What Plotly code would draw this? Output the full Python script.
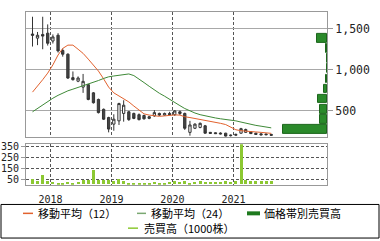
import pandas as pd
import plotly.graph_objects as go

W, H = 380, 241

# ---- data (monthly, Sep 2017 - Aug 2021) ----
months = [d.strftime("%Y-%m-15") for d in pd.date_range("2017-09-01", "2021-08-01", freq="MS")]

open_ = [1435, 1385, 1430, 1445, 1350, 1420, 1235, 1190, 905, 862, 790, 820, 720, 640, 520, 420,
         340, 380, 470, 490, 470, 455, 445, 410, 440, 470, 450, 470, 455, 490, 470, 240,
         290, 300, 320, 240, 235, 232, 230, 200, 205, 230, 240, 245, 230, 222, 220, 215]
high_ = [1645, 1460, 1645, 1552, 1430, 1445, 1260, 1200, 980, 920, 950, 830, 730, 650, 530, 430,
         460, 600, 630, 500, 480, 470, 455, 440, 510, 480, 480, 490, 510, 505, 480, 380,
         350, 360, 330, 245, 240, 240, 235, 215, 225, 295, 285, 250, 235, 228, 225, 222]
low_ = [1283, 1300, 1250, 1295, 1320, 1210, 1160, 890, 870, 850, 720, 630, 590, 470, 390, 240,
        260, 330, 370, 380, 400, 385, 395, 400, 430, 440, 445, 450, 440, 450, 270, 200,
        280, 290, 225, 222, 220, 215, 190, 190, 195, 225, 235, 220, 210, 205, 205, 200]
close_ = [1420, 1420, 1410, 1323, 1400, 1230, 1190, 900, 880, 900, 860, 640, 600, 480, 400, 280,
          400, 590, 570, 395, 410, 395, 405, 430, 480, 450, 470, 455, 500, 470, 290, 330,
          340, 350, 230, 228, 225, 222, 195, 205, 215, 285, 275, 225, 215, 210, 212, 205]

ma12 = [729, 800, 880, 960, 1060, 1180, 1260, 1300, 1300, 1250, 1200, 1130, 1055, 985, 890, 790,
        720, 680, 645, 610, 560, 515, 465, 450, 442, 435, 440, 448, 452, 450, 430, 420,
        410, 398, 385, 372, 362, 350, 335, 300, 272, 260, 253, 248, 245, 240, 233, 228]
ma24 = [490, 530, 575, 620, 655, 690, 720, 745, 765, 785, 805, 825, 845, 870, 895, 915,
        925, 935, 945, 950, 930, 890, 845, 800, 755, 715, 680, 640, 600, 565, 530, 500,
        475, 455, 440, 428, 415, 405, 398, 392, 380, 365, 350, 338, 325, 315, 305, 295]

volume = [50, 30, 85, 35, 20, 18, 18, 20, 15, 22, 42, 40, 130, 45, 45, 45,
          28, 48, 35, 18, 15, 15, 15, 15, 22, 15, 15, 25, 28, 22, 33, 15,
          20, 35, 25, 22, 22, 22, 30, 20, 30, 420, 45, 32, 30, 30, 30, 28]

band_price = [277, 400, 523, 646, 769, 892, 1015, 1138, 1261, 1384]
band_volume = [1320, 220, 220, 280, 100, 30, 0, 0, 40, 300]

price_ticks = [500, 1000, 1500]
price_labels = ["500", "1,000", "1,500"]
vol_ticks = [50, 150, 250, 350]
year_ticks = ["2018-01-01", "2019-01-01", "2020-01-01", "2021-01-01"]
year_labels = ["2018", "2019", "2020", "2021"]

legend_names = ["移動平均（12）", "移動平均（24）", "価格帯別売買高", "売買高（1000株）"]

# ---- colours ----
C_MA12 = "#e2622e"
C_MA24 = "#3f8a38"
C_BAND = "#2b8a2b"
C_VOL = "#8cc832"
GRID = "#a8a8a8"
DASH = "#555555"

fig = go.Figure()

fig.add_trace(go.Candlestick(
    x=months, open=open_, high=high_, low=low_, close=close_,
    xaxis="x", yaxis="y",
    increasing=dict(line=dict(color="#333333", width=1), fillcolor="#ffffff"),
    decreasing=dict(line=dict(color="#333333", width=1), fillcolor="#444444"),
    whiskerwidth=0, showlegend=False, hoverinfo="skip",
))
fig.add_trace(go.Scatter(x=months, y=ma12, mode="lines", line=dict(color=C_MA12, width=1),
                         xaxis="x", yaxis="y", showlegend=False, hoverinfo="skip"))
fig.add_trace(go.Scatter(x=months, y=ma24, mode="lines", line=dict(color=C_MA24, width=1),
                         xaxis="x", yaxis="y", showlegend=False, hoverinfo="skip"))
fig.add_trace(go.Bar(x=band_volume, y=band_price, orientation="h", width=105,
                     marker=dict(color=C_BAND, line=dict(color="#1c661c", width=1)),
                     xaxis="x3", yaxis="y", showlegend=False, hoverinfo="skip"))
fig.add_trace(go.Bar(x=months, y=volume, width=1.55e9, marker=dict(color=C_VOL, line=dict(width=0)),
                     xaxis="x2", yaxis="y2", showlegend=False, hoverinfo="skip"))

xdom = [26 / W, 327 / W]
xr = ["2017-08-07", "2022-07-15"]
band_max = max(band_volume) * 301 / 44

mono = dict(family="DejaVu Sans Mono", color="#222222")

fig.update_layout(
    width=W, height=H, margin=dict(l=0, r=0, t=0, b=0),
    paper_bgcolor="white", plot_bgcolor="white",
    bargap=0,
    xaxis=dict(domain=xdom, range=xr, type="date", anchor="y",
               tickvals=year_ticks, showticklabels=False, ticks="",
               showgrid=True, gridcolor=DASH, griddash="3px,2px", gridwidth=1,
               showline=True, mirror=True, linecolor="#999999", linewidth=1,
               rangeslider=dict(visible=False), zeroline=False),
    xaxis3=dict(overlaying="x", range=[band_max, 0], visible=False, anchor="y"),
    yaxis=dict(domain=[1 - 136 / H, 1 - 9 / H], range=[180, 1704], side="right", anchor="x",
               tickvals=price_ticks, ticktext=price_labels,
               ticks="outside", ticklen=5, tickcolor="#999999",
               tickfont=dict(size=11.5, **mono),
               showgrid=True, gridcolor=GRID, gridwidth=1,
               showline=True, mirror=True, linecolor="#999999", linewidth=1, zeroline=False),
    xaxis2=dict(domain=xdom, range=xr, type="date", anchor="y2",
                tickvals=year_ticks, ticktext=year_labels, ticks="", ticklabelstandoff=5,
                tickfont=dict(size=10, **mono),
                showgrid=True, gridcolor=DASH, griddash="3px,2px", gridwidth=1,
                showline=True, mirror=True, linecolor="#999999", linewidth=1, zeroline=False),
    yaxis2=dict(domain=[1 - 184 / H, 1 - 143 / H], range=[0, 370], anchor="x2", side="left",
                tickvals=vol_ticks, ticks="outside", ticklen=4, tickcolor="#999999",
                tickfont=dict(size=10, **mono),
                showgrid=True, gridcolor=DASH, griddash="3px,2px", gridwidth=1,
                showline=True, mirror=True, linecolor="#999999", linewidth=1, zeroline=False),
)

# ---- legend box (drawn manually to match the reference layout) ----
def px(x):
    return x / W

def py(y):
    return 1 - y / H

shapes = [dict(type="rect", xref="paper", yref="paper", x0=px(1), x1=px(379), y0=py(238), y1=py(204),
               line=dict(color="#000000", width=1), fillcolor="rgba(0,0,0,0)")]
annotations = []
items = [
    (23, 33, 213, C_MA12, 1.5, 36, legend_names[0]),
    (137, 146, 213, "#7aa872", 1.5, 149, legend_names[1]),
    (247, 260, 213, "#1e7a1e", 4, 262, legend_names[2]),
    (128, 138, 228, C_VOL, 1.5, 142, legend_names[3]),
]
for x0, x1, y, col, lw, tx, txt in items:
    shapes.append(dict(type="line", xref="paper", yref="paper", x0=px(x0), x1=px(x1), y0=py(y), y1=py(y),
                       line=dict(color=col, width=lw)))
    annotations.append(dict(xref="paper", yref="paper", x=px(tx), y=py(y), text=txt, showarrow=False,
                            xanchor="left", yanchor="middle",
                            font=dict(family="Noto Sans CJK JP", size=11, color="#000000")))

fig.update_layout(shapes=shapes, annotations=annotations)

fig.write_html("out.html")
